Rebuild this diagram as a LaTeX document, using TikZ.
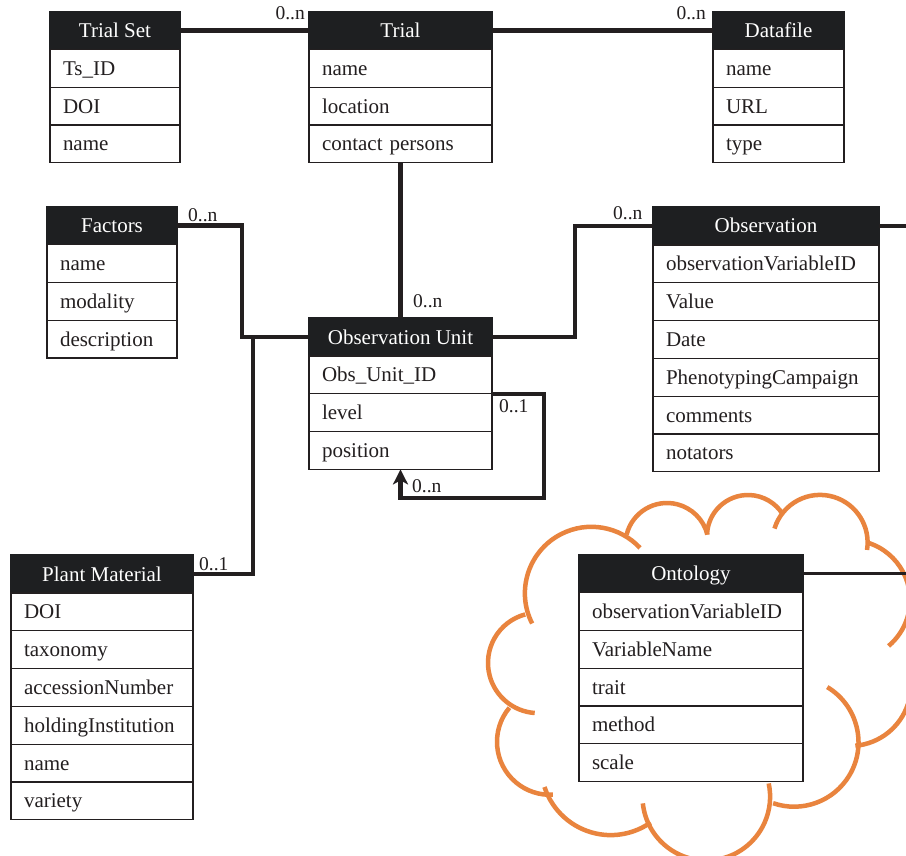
\documentclass[tikz,border=0pt]{standalone}
\usepackage{fontspec}
\setmainfont{Liberation Serif}
\usetikzlibrary{arrows.meta}
\definecolor{hdrc}{RGB}{30,31,33}
\definecolor{linec}{RGB}{35,31,32}
\definecolor{cloudc}{RGB}{233,132,62}
\tikzset{
  hdr/.style={fill=hdrc, draw=hdrc, line width=1.2pt, text=white, minimum width=#1, minimum height=38pt,
    inner sep=0pt, outer sep=0pt, anchor=north west, text height=15pt, text depth=1pt,
    font=\fontsize{21}{25}\selectfont},
  row/.style={draw=linec, fill=white, line width=1.2pt, text width=#1, inner xsep=13pt, inner ysep=0pt,
    minimum height=37.8pt, outer sep=0pt, anchor=north west, align=left, text height=15pt, text depth=1pt,
    font=\fontsize{21}{25}\selectfont, text=linec},
  conn/.style={draw=linec, line width=4.3pt, line join=miter},
  mult/.style={font=\fontsize{19.5}{22}\selectfont, inner sep=0pt, text=linec},
  cloudline/.style={draw=cloudc, line width=4.5pt}
}
\begin{document}
\begin{tikzpicture}[x=1pt,y=1pt]
\useasboundingbox (0,0) rectangle (906,-856);
\fill[white] (0,0) rectangle (906,-856);
\clip (0,0) rectangle (906,-856);

% cloud
\draw[cloudline] (591.4,-593.3) ++(207:66.5) arc[start angle=207,end angle=43,radius=66.5];
\draw[cloudline] (667,-544.6) ++(166:41.6) arc[start angle=166,end angle=14,radius=41.6];
\draw[cloudline] (748,-536) ++(178:41) arc[start angle=178,end angle=32,radius=41];
\draw[cloudline] (820,-542.5) ++(163:47.6) arc[start angle=163,end angle=-9,radius=47.6];
\draw[cloudline] (850,-600) ++(73:60) arc[start angle=73,end angle=-50,radius=60];
\draw[cloudline] (850,-685) ++(-85:61) arc[start angle=-85,end angle=-18,radius=61];
\draw[cloudline] (794.1,-742.3) ++(59:64.4) arc[start angle=59,end angle=-109,radius=64.4];
\draw[cloudline] (706.3,-796.7) ++(186:63.8) arc[start angle=186,end angle=372,radius=63.8];
\draw[cloudline] (610.7,-765.5) ++(198:69.6) arc[start angle=198,end angle=305,radius=69.6];
\draw[cloudline] (550,-741.8) ++(140:53) arc[start angle=140,end angle=273,radius=53];
\draw[cloudline] (538.2,-662.9) ++(105:50.2) arc[start angle=105,end angle=266,radius=50.2];

% Trial Set
\node[hdr=130pt] (tsH) at (50,-11.5) {Trial Set};
\node[row=104pt] (ts1) at (tsH.south west) {Ts\_ID};
\node[row=104pt] (ts2) at (ts1.south west) {DOI};
\node[row=104pt] (ts3) at (ts2.south west) {name};

% Trial
\node[hdr=183pt] (trH) at (309,-11.5) {Trial};
\node[row=157pt] (tr1) at (trH.south west) {name};
\node[row=157pt] (tr2) at (tr1.south west) {location};
\node[row=157pt] (tr3) at (tr2.south west) {contact persons};

% Datafile
\node[hdr=131pt] (dfH) at (713,-11.5) {Datafile};
\node[row=105pt] (df1) at (dfH.south west) {name};
\node[row=105pt] (df2) at (df1.south west) {URL};
\node[row=105pt] (df3) at (df2.south west) {type};

% Factors
\node[hdr=130pt] (faH) at (47,-206.5) {Factors};
\node[row=104pt] (fa1) at (faH.south west) {name};
\node[row=104pt] (fa2) at (fa1.south west) {modality};
\node[row=104pt] (fa3) at (fa2.south west) {description};

% Observation Unit
\node[hdr=183pt] (ouH) at (309,-318) {Observation Unit};
\node[row=157pt] (ou1) at (ouH.south west) {Obs\_Unit\_ID};
\node[row=157pt] (ou2) at (ou1.south west) {level};
\node[row=157pt] (ou3) at (ou2.south west) {position};

% Observation
\node[hdr=226pt] (obH) at (653,-207) {Observation};
\node[row=200pt] (ob1) at (obH.south west) {observationVariableID};
\node[row=200pt] (ob2) at (ob1.south west) {Value};
\node[row=200pt] (ob3) at (ob2.south west) {Date};
\node[row=200pt] (ob4) at (ob3.south west) {PhenotypingCampaign};
\node[row=200pt] (ob5) at (ob4.south west) {comments};
\node[row=200pt] (ob6) at (ob5.south west) {notators};

% Plant Material
\node[hdr=182pt] (pmH) at (11,-555) {Plant Material};
\node[row=156pt] (pm1) at (pmH.south west) {DOI};
\node[row=156pt] (pm2) at (pm1.south west) {taxonomy};
\node[row=156pt] (pm3) at (pm2.south west) {accessionNumber};
\node[row=156pt] (pm4) at (pm3.south west) {holdingInstitution};
\node[row=156pt] (pm5) at (pm4.south west) {name};
\node[row=156pt] (pm6) at (pm5.south west) {variety};

% Ontology
\node[hdr=224pt] (onH) at (579,-554.5) {Ontology};
\node[row=198pt] (on1) at (onH.south west) {observationVariableID};
\node[row=198pt] (on2) at (on1.south west) {VariableName};
\node[row=198pt] (on3) at (on2.south west) {trait};
\node[row=198pt] (on4) at (on3.south west) {method};
\node[row=198pt] (on5) at (on4.south west) {scale};

% connectors
\coordinate (obEnd) at (912,-226);
\coordinate (onEnd) at (912,-573.5);
\coordinate (loopc) at (400.5,-498);
\draw[conn] (tsH.east) -- (trH.west);
\draw[conn] (trH.east) -- (dfH.west);
\draw[conn] (tr3.south) -- (ouH.north);
\draw[conn] (faH.east) -- ++(65,0) |- (ouH.west);
\draw[conn] (pmH.east) -- ++(60,0) |- (ouH.west);
\draw[conn] (ouH.east) -- ++(83,0) |- (obH.west);
\draw[conn,-{Stealth[length=15pt 0 0,width=15pt 0,inset=4pt 0]}] (ou1.south east) -- ++(52,0) |- (loopc) -- (ou3.south);
\draw[conn] (obH.east) -- (obEnd);
\draw[conn, line width=3.8pt] (onH.east) -- (onEnd);

% multiplicities
\node[mult, anchor=base east] (m1) at (305,-20) {0..n};
\node[mult, anchor=base east] (m2) at (706,-20) {0..n};
\node[mult, anchor=base west] (m3) at (413,-307) {0..n};
\node[mult, anchor=base west] (m4) at (188,-222) {0..n};
\node[mult, anchor=base west] (m5) at (199,-570) {0..1};
\node[mult, anchor=base west] (m6) at (613,-220) {0..n};
\node[mult, anchor=base west] (m7) at (499,-412) {0..1};
\node[mult, anchor=base west] (m8) at (412,-492) {0..n};
\end{tikzpicture}
\end{document}
